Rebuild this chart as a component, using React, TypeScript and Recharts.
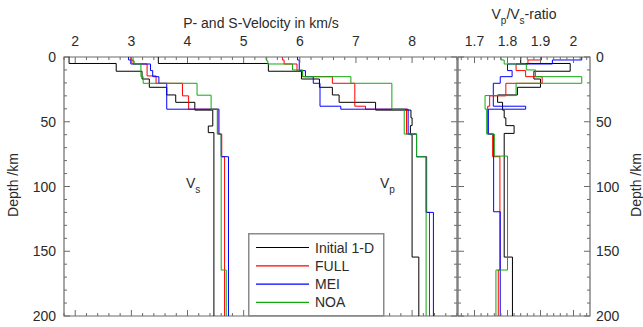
import React from "react";
import { LineChart, Line, XAxis, YAxis, ReferenceArea, Legend } from "recharts";

const FONT = '"Liberation Sans", Arial, Helvetica, sans-serif';
const AXIS = "#6a6a6a";
const INK = "#2b2b2b";
const FS = 14;

const models = ["Initial 1-D", "FULL", "MEI", "NOA"];
const colors = ["#000000", "#ff0000", "#0000ff", "#11aa11"];

// S-velocity (km/s), layer tops/bottoms in km
const initVsDepth = [0, 5, 11, 17, 23.4, 29.3, 35, 41, 53.3, 58.4, 200];
const initVs = [1.89, 2.73, 3.19, 3.32, 3.63, 3.79, 4.13, 4.45, 4.37, 4.47];
const fullVsDepth = [0, 2.3, 5.4, 14.6, 20.3, 30, 40.3, 59.5, 77, 200];
const fullVs = [2.99, 3.03, 3.28, 3.44, 3.91, 4.02, 4.54, 4.61, 4.66];
const meiVsDepth = [0, 2.3, 5.4, 10.5, 15.2, 20.3, 40.3, 59.5, 77, 200];
const meiVs = [2.95, 2.99, 3.34, 3.38, 3.49, 3.63, 4.56, 4.6, 4.73];
const noaVsDepth = [0, 3, 5.4, 15.2, 20.3, 29.5, 40.3, 59.5, 164.5, 200];
const noaVs = [3.03, 3.05, 3.17, 3.21, 4.17, 4.42, 4.53, 4.6, 4.69];

// P-velocity (km/s)
const initVpDepth = [0, 5, 11, 17, 23.4, 29.3, 35, 41, 47, 53, 60, 154.5, 200];
const initVp = [3.48, 5.44, 6.03, 6.35, 6.58, 6.7, 7.35, 7.98, 8.0, 7.97, 8.0, 8.12];
const fullVpDepth = [0, 2.3, 5.4, 11, 15.2, 20.3, 38, 40.3, 59.5, 77, 120, 200];
const fullVp = [5.69, 5.72, 5.95, 6.05, 6.58, 6.98, 7.17, 7.9, 8.08, 8.26, 8.31];
const meiVpDepth = [0, 2.3, 10.5, 15.2, 20.3, 38, 40.3, 59.5, 77, 120, 200];
const meiVp = [5.96, 5.99, 6.1, 6.24, 6.36, 6.73, 7.93, 8.08, 8.25, 8.38];
const noaVpDepth = [0, 3, 5.4, 10, 15.2, 20.3, 40.3, 59.5, 77, 200];
const noaVp = [5.41, 5.43, 5.87, 6.05, 6.91, 7.64, 7.86, 8.08, 8.25];

// Vp/Vs ratio
const initRatioDepth = [0, 5, 11, 17, 23.4, 29.3, 35, 41, 47, 53, 59, 154.5, 200];
const initRatio = [1.84, 1.99, 1.88, 1.9, 1.83, 1.77, 1.785, 1.79, 1.795, 1.82, 1.79, 1.815];
const fullRatioDepth = [0, 2.3, 5.4, 10.5, 15.2, 20.3, 30, 38, 59.5, 77, 164.5, 200];
const fullRatio = [1.903, 1.862, 1.826, 1.855, 1.905, 1.795, 1.746, 1.74, 1.755, 1.777, 1.772];
const meiRatioDepth = [0, 2.3, 5.4, 10.5, 15.2, 20.3, 38, 40.3, 59.5, 119.5, 200];
const meiRatio = [2.025, 1.936, 1.8, 1.814, 1.778, 1.757, 1.855, 1.742, 1.758, 1.778];
const noaRatioDepth = [0, 2.3, 5.4, 10, 15.2, 20.3, 29.8, 40.3, 59.5, 76.5, 164.5, 200];
const noaRatio = [1.78, 1.79, 1.857, 1.885, 2.025, 1.826, 1.732, 1.737, 1.76, 1.8, 1.765];

const velTicks = Array.from({ length: 36 }, (_, i) => Math.round((1.8 + i * 0.2) * 10) / 10);
const ratioTicks = Array.from({ length: 20 }, (_, i) => Math.round((1.66 + i * 0.02) * 100) / 100);
const depthTicks = Array.from({ length: 21 }, (_, i) => i * 10);

// layer values -> step profile points
function steps(depth: number[], vals: number[]) {
  const pts: { v: number; d: number }[] = [];
  vals.forEach((v, i) => {
    pts.push({ v, d: depth[i] }, { v, d: depth[i + 1] });
  });
  return pts;
}

const vsSeries = [
  steps(initVsDepth, initVs),
  steps(fullVsDepth, fullVs),
  steps(meiVsDepth, meiVs),
  steps(noaVsDepth, noaVs),
];
const vpSeries = [
  steps(initVpDepth, initVp),
  steps(fullVpDepth, fullVp),
  steps(meiVpDepth, meiVp),
  steps(noaVpDepth, noaVp),
];
const ratioSeries = [
  steps(initRatioDepth, initRatio),
  steps(fullRatioDepth, fullRatio),
  steps(meiRatioDepth, meiRatio),
  steps(noaRatioDepth, noaRatio),
];

type Box = { left: number; right: number; top: number; bottom: number };
const VEL: Box = { left: 64, right: 457, top: 57, bottom: 316 };
const RAT: Box = { left: 458, right: 590, top: 57, bottom: 316 };

// inward ticks on top and bottom, labels above
function XTick(props: any) {
  const { payload, box, isMajor, fmt } = props;
  const x = payload.coordinate;
  const major = isMajor(payload.value);
  const len = major ? 6 : 3;
  return (
    <g>
      <line x1={x} x2={x} y1={box.top} y2={box.top + len} stroke={AXIS} />
      <line x1={x} x2={x} y1={box.bottom} y2={box.bottom - len} stroke={AXIS} />
      {major && (
        <text x={x} y={box.top - 11} textAnchor="middle" fontSize={FS} fill={INK} fontFamily={FONT}>
          {fmt(payload.value)}
        </text>
      )}
    </g>
  );
}

// inward ticks on both sides, labels on one side
function YTick(props: any) {
  const { payload, box, side } = props;
  const y = payload.coordinate;
  const major = payload.value % 50 === 0;
  const len = major ? 6 : 3;
  return (
    <g>
      <line x1={box.left} x2={box.left + len} y1={y} y2={y} stroke={AXIS} />
      <line x1={box.right} x2={box.right - len} y1={y} y2={y} stroke={AXIS} />
      {major && (
        <text
          x={side === "left" ? box.left - 8 : box.right + 6}
          y={y}
          dy="0.36em"
          textAnchor={side === "left" ? "end" : "start"}
          fontSize={FS}
          fill={INK}
          fontFamily={FONT}
        >
          {payload.value}
        </text>
      )}
    </g>
  );
}

function LegendBox({ payload }: any) {
  const items = (payload || [])
    .filter((p: any) => models.includes(p.value))
    .sort((a: any, b: any) => models.indexOf(a.value) - models.indexOf(b.value));
  return (
    <svg width={137} height={84} style={{ display: "block" }}>
      <rect x={0.75} y={0.75} width={135} height={82} fill="#fff" stroke="#8a8a8a" strokeWidth={1.5} />
      {items.map((p: any, i: number) => {
        const y = 14.5 + i * 18.3;
        return (
          <g key={p.value}>
            <line x1={8} x2={61} y1={y} y2={y} stroke={p.color} strokeWidth={1.2} />
            <text x={67} y={y + 5} fontSize={FS} fill={INK} fontFamily={FONT}>
              {p.value}
            </text>
          </g>
        );
      })}
    </svg>
  );
}

export default function App() {
  return (
    <div style={{ position: "absolute", left: 0, top: 0, width: 643, height: 327, background: "#fff", fontFamily: FONT }}>
      <div style={{ position: "absolute", left: 0, top: 0 }}>
        <LineChart width={643} height={327} layout="vertical" margin={{ top: 37, right: 186, bottom: 11, left: 24 }}>
          <XAxis
            type="number"
            orientation="top"
            domain={[1.8, 8.8]}
            ticks={velTicks}
            interval={0}
            height={20}
            axisLine={false}
            tickLine={false}
            tick={<XTick box={VEL} isMajor={(v: number) => Math.abs(v - Math.round(v)) < 1e-6} fmt={(v: number) => String(Math.round(v))} />}
            allowDataOverflow
          />
          <YAxis
            type="number"
            dataKey="d"
            domain={[0, 200]}
            ticks={depthTicks}
            interval={0}
            width={40}
            axisLine={false}
            tickLine={false}
            tick={<YTick box={VEL} side="left" />}
            allowDataOverflow
          />
          <ReferenceArea x1={1.8} x2={8.8} y1={0} y2={200} fill="none" stroke={AXIS} strokeWidth={1.2} />
          {vsSeries.map((data, i) => (
            <Line
              key={"vs" + i}
              data={data}
              dataKey="v"
              name={models[i]}
              stroke={colors[i]}
              strokeWidth={1}
              dot={false}
              activeDot={false}
              isAnimationActive={false}
            />
          ))}
          {vpSeries.map((data, i) => (
            <Line
              key={"vp" + i}
              data={data}
              dataKey="v"
              name={models[i] + " Vp"}
              legendType="none"
              stroke={colors[i]}
              strokeWidth={1}
              dot={false}
              activeDot={false}
              isAnimationActive={false}
            />
          ))}
          <Legend
            layout="horizontal"
            verticalAlign="middle"
            align="center"
            content={<LegendBox />}
            wrapperStyle={{ position: "absolute", left: 248, top: 233, width: 137, height: 84 }}
          />
          <text x={261} y={27.5} textAnchor="middle" fontSize={FS} fill={INK} fontFamily={FONT}>
            P- and S-Velocity in km/s
          </text>
          <text x={186} y={188} fontSize={FS} fill={INK} fontFamily={FONT}>
            V<tspan dy={5} fontSize={10}>s</tspan>
          </text>
          <text x={380} y={188} fontSize={FS} fill={INK} fontFamily={FONT}>
            V<tspan dy={5} fontSize={10}>p</tspan>
          </text>
          <text x={18} y={185} transform="rotate(-90 18 185)" textAnchor="middle" fontSize={FS} fill={INK} fontFamily={FONT}>
            Depth /km
          </text>
        </LineChart>
      </div>
      <div style={{ position: "absolute", left: 0, top: 0 }}>
        <LineChart width={643} height={327} layout="vertical" margin={{ top: 37, right: 13, bottom: 11, left: 458 }}>
          <XAxis
            type="number"
            orientation="top"
            domain={[1.65, 2.05]}
            ticks={ratioTicks}
            interval={0}
            height={20}
            axisLine={false}
            tickLine={false}
            tick={<XTick box={RAT} isMajor={(v: number) => Math.abs(v * 10 - Math.round(v * 10)) < 1e-6} fmt={(v: number) => String(Math.round(v * 10) / 10)} />}
            allowDataOverflow
          />
          <YAxis
            type="number"
            orientation="right"
            dataKey="d"
            domain={[0, 200]}
            ticks={depthTicks}
            interval={0}
            width={40}
            axisLine={false}
            tickLine={false}
            tick={<YTick box={RAT} side="right" />}
            allowDataOverflow
          />
          <ReferenceArea x1={1.65} x2={2.05} y1={0} y2={200} fill="none" stroke={AXIS} strokeWidth={1.2} />
          {ratioSeries.map((data, i) => (
            <Line
              key={"r" + i}
              data={data}
              dataKey="v"
              name={models[i]}
              stroke={colors[i]}
              strokeWidth={1}
              dot={false}
              activeDot={false}
              isAnimationActive={false}
            />
          ))}
          <text x={524} y={18.5} textAnchor="middle" fontSize={FS} fill={INK} fontFamily={FONT}>
            V<tspan dy={5} fontSize={10}>p</tspan>
            <tspan dy={-5}>/V</tspan>
            <tspan dy={5} fontSize={10}>s</tspan>
            <tspan dy={-5}>-ratio</tspan>
          </text>
          <text x={641} y={185} transform="rotate(-90 641 185)" textAnchor="middle" fontSize={FS} fill={INK} fontFamily={FONT}>
            Depth /km
          </text>
        </LineChart>
      </div>
    </div>
  );
}
